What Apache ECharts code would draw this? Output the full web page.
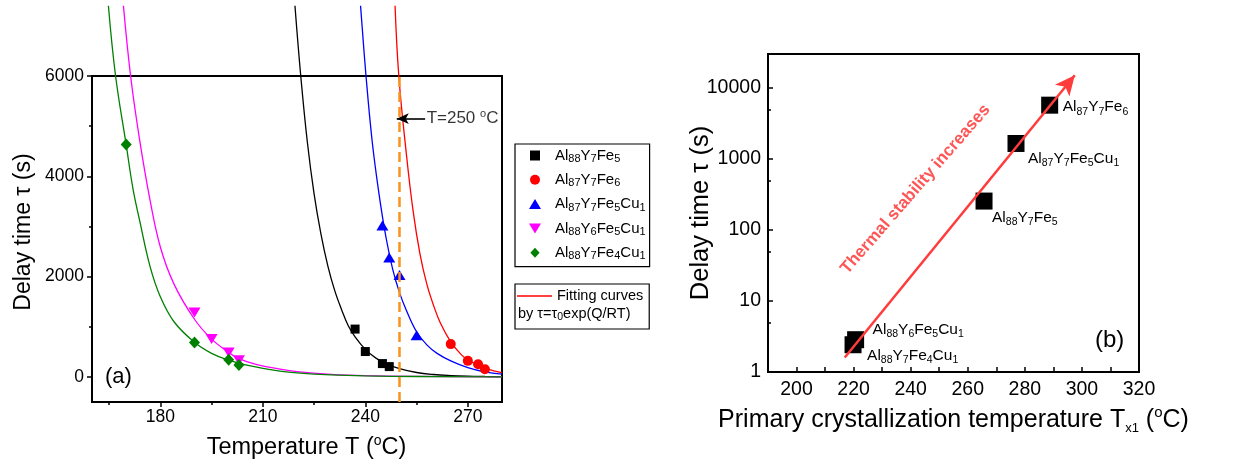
<!DOCTYPE html>
<html><head><meta charset="utf-8">
<script src="https://cdn.jsdelivr.net/npm/echarts@6/dist/echarts.min.js"></script>
<style>html,body{margin:0;padding:0;background:#fff}#c{width:1238px;height:461px}</style>
</head><body><div id="c"></div>
<script>
const FONT = "'Liberation Sans', Arial, Helvetica, sans-serif";

// ---------- panel (a): measured delay times ----------
const alloyNames = ['Al88Y7Fe5', 'Al87Y7Fe6', 'Al87Y7Fe5Cu1', 'Al88Y6Fe5Cu1', 'Al88Y7Fe4Cu1'];
const fe5T = [237, 240, 245, 247];        const fe5Tau = [954, 506, 266, 206];
const fe6T = [265, 270, 273, 275];        const fe6Tau = [654, 320, 254, 154];
const cuT = [245, 247, 250, 255];         const cuTau = [3020, 2380, 2030, 830];
const y6T = [190, 195, 200, 203];         const y6Tau = [1286, 754, 486, 334];
const fe4T = [170, 190, 200, 203];        const fe4Tau = [4634, 686, 340, 240];

// ---------- panel (a): fitting curves ----------
const fitFe5T = [219.4, 221.1, 223, 225, 227, 229, 231, 233, 235, 237, 240, 243, 246, 250, 255, 260, 265, 270, 275, 280];
const fitFe5Tau = [7400, 6000, 4700, 3650, 2850, 2220, 1730, 1350, 1020, 800, 550, 380, 265, 165, 88, 48, 27, 15, 9, 5];
const fitFe6T = [248.7, 249.8, 252, 254, 256, 258, 260, 262, 265, 268, 270, 273, 275, 278, 280];
const fitFe6Tau = [7400, 6000, 4450, 3300, 2450, 1850, 1420, 1070, 700, 450, 340, 235, 175, 115, 85];
const fitCuT = [238.6, 240.2, 242, 244, 246, 248, 250, 252, 255, 258, 261, 265, 270, 275, 280];
const fitCuTau = [7400, 6000, 4700, 3650, 2800, 2150, 1680, 1330, 900, 640, 470, 320, 185, 100, 55];
const fitY6T = [169.2, 171.3, 174, 177, 180, 184, 190, 195, 200, 203, 208, 215, 220, 230, 240, 255, 280];
const fitY6Tau = [7400, 6000, 4700, 3520, 2590, 1850, 1150, 754, 490, 365, 250, 155, 105, 52, 25, 10, 2];
const fitFe4T = [164.8, 166.9, 170, 172, 174, 177, 180, 184, 190, 195, 200, 205, 210, 215, 220, 230, 240, 255, 280];
const fitFe4Tau = [7400, 6000, 4630, 3750, 3100, 2200, 1600, 1100, 690, 470, 335, 240, 170, 115, 80, 40, 20, 8, 2];

// annotation at T = 250 C
const markT = [250];
const arrowTail = [257.5, 5150];
const arrowHead = [249.2, 5150];

// axis ticks panel (a)
const xMajorA = [180, 210, 240, 270];
const xMinorA = [165, 195, 225, 255];
const yMajorA = [0, 2000, 4000, 6000];
const yMinorA = [1000, 3000, 5000];

// ---------- panel (b) ----------
const tx1 = [265.7, 288.7, 276.9, 220.7, 219.8];
const tau250 = [255, 5710, 1650, 2.85, 2.42];
const redArrowStart = [216.9, 1.6];
const redArrowEnd = [297.5, 15090];
const thermalPos = [241.7, 374];
const xLabelsB = [200, 220, 240, 260, 280, 300, 320];
const xTicksB = [200, 210, 220, 230, 240, 250, 260, 270, 280, 290, 300, 310];
const yMajorB = [1, 10, 100, 1000, 10000];
const yMinorB = [5, 50, 500, 5000];

// label offsets (style) for panel (b)
const labelOffsetsB = [[-0.5, 17], [4.5, 2], [3.5, 15], [8.5, -10], [5.5, 11]];

function pts(xs, ys) { return xs.map((x, i) => [x, ys[i]]); }
function sub(name) { return name.replace(/(\d+)/g, '{s|$1}'); }

const SQ = 'path://M0,0h10v10h-10z';
const TRI_UP = 'path://M6,0L12,10L0,10Z';
const TRI_DN = 'path://M0,0L12,0L6,10Z';
const DIAM = 'path://M6,0L12,6.5L6,13L0,6.5Z';
const LINE_ICON = 'path://M0,0h35v1.4h-35z';

const colors = ['#000000', '#ff0000', '#0000ff', '#ff00ff', '#008000'];

function lineSeries(name, xs, ys, color, extra) {
  return Object.assign({
    type: 'line', name: name, xAxisIndex: 0, yAxisIndex: 0,
    data: pts(xs, ys), symbol: 'none', showSymbol: false, smooth: 0.4,
    clip: false, silent: true, z: 2,
    lineStyle: { color: color, width: 1.3 }, itemStyle: { color: color }
  }, extra || {});
}
function scatterA(name, xs, ys, color, symbol, size) {
  return {
    type: 'scatter', name: name, xAxisIndex: 0, yAxisIndex: 0, data: pts(xs, ys),
    symbol: symbol, symbolSize: size, itemStyle: { color: color, opacity: 1 }, silent: true, z: 4
  };
}

const axisLineBlack = { show: true, onZero: false, lineStyle: { color: '#000', width: 2 } };
const axisLineHidden = { show: false, onZero: false };
const tickStyle = { color: '#000', width: 1.5 };

const option = {
  animation: false,
  backgroundColor: '#fff',
  textStyle: { fontFamily: FONT, color: '#000' },
  grid: [
    { left: 92, top: 76, width: 410, height: 326, show: true, borderColor: '#000', borderWidth: 2,
      backgroundColor: 'transparent', containLabel: false, outerBoundsMode: 'none' },
    { left: 768, top: 54, width: 371, height: 318, show: true, borderColor: '#000', borderWidth: 2,
      backgroundColor: 'transparent', containLabel: false, outerBoundsMode: 'none' }
  ],
  xAxis: [
    { gridIndex: 0, type: 'value', min: 160, max: 280, position: 'bottom',
      axisLine: axisLineBlack,
      axisTick: { show: true, inside: false, length: 5, customValues: xMajorA, lineStyle: tickStyle },
      axisLabel: { show: true, customValues: xMajorA, fontSize: 17.5, margin: 6, color: '#000', fontFamily: FONT, formatter: v => String(v) },
      splitLine: { show: false },
      name: 'Temperature T ({o|o}C)', nameLocation: 'middle', nameGap: 32, nameMoveOverlap: false,
      nameTextStyle: { fontSize: 23.5, lineHeight: 28, color: '#000', fontFamily: FONT, padding: [0, 0, 0, 19],
        rich: { o: { fontSize: 14, lineHeight: 14, verticalAlign: 'top', fontFamily: FONT } } } },
    { gridIndex: 0, type: 'value', min: 160, max: 280, position: 'bottom',
      axisLine: axisLineHidden,
      axisTick: { show: true, inside: false, length: 3, customValues: xMinorA, lineStyle: tickStyle },
      axisLabel: { show: false }, splitLine: { show: false } },
    { gridIndex: 1, type: 'value', min: 190, max: 320, position: 'bottom',
      axisLine: axisLineBlack,
      axisTick: { show: true, inside: true, length: 5, customValues: xTicksB, lineStyle: tickStyle },
      axisLabel: { show: true, customValues: xLabelsB, fontSize: 19.5, margin: 8, color: '#000', fontFamily: FONT, formatter: v => String(v) },
      splitLine: { show: false },
      name: 'Primary crystallization temperature T{x|x1} ({o|o}C)', nameLocation: 'middle', nameGap: 33, nameMoveOverlap: false,
      nameTextStyle: { fontSize: 25, lineHeight: 30, color: '#000', fontFamily: FONT,
        rich: { x: { fontSize: 13, lineHeight: 5, verticalAlign: 'bottom', fontFamily: FONT },
                o: { fontSize: 15, lineHeight: 15, verticalAlign: 'top', fontFamily: FONT } } } }
  ],
  yAxis: [
    { gridIndex: 0, type: 'value', min: -500, max: 6000, position: 'left',
      axisLine: axisLineBlack,
      axisTick: { show: true, inside: false, length: 5, customValues: yMajorA, lineStyle: tickStyle },
      axisLabel: { show: true, customValues: yMajorA, fontSize: 17.5, margin: 8, color: '#000', fontFamily: FONT, formatter: v => String(v) },
      splitLine: { show: false },
      name: 'Delay time \u03c4 (s)', nameLocation: 'middle', nameGap: 54, nameRotate: 90, nameMoveOverlap: false,
      nameTextStyle: { fontSize: 23, lineHeight: 28, color: '#000', fontFamily: FONT, padding: [0, 0, 0, 14] } },
    { gridIndex: 0, type: 'value', min: -500, max: 6000, position: 'left',
      axisLine: axisLineHidden,
      axisTick: { show: true, inside: false, length: 3, customValues: yMinorA, lineStyle: tickStyle },
      axisLabel: { show: false }, splitLine: { show: false } },
    { gridIndex: 1, type: 'log', logBase: 10, min: 1, max: 30000, position: 'left',
      axisLine: axisLineBlack,
      axisTick: { show: true, inside: true, length: 5, customValues: yMajorB, lineStyle: tickStyle },
      axisLabel: { show: true, customValues: yMajorB, fontSize: 19.5, margin: 7, color: '#000', fontFamily: FONT, formatter: v => String(Math.round(v)) },
      splitLine: { show: false },
      name: 'Delay time \u03c4 (s)', nameLocation: 'middle', nameGap: 52, nameRotate: 90, nameMoveOverlap: false,
      nameTextStyle: { fontSize: 25.5, lineHeight: 30, color: '#000', fontFamily: FONT } },
    { gridIndex: 1, type: 'log', logBase: 10, min: 1, max: 30000, position: 'left',
      axisLine: axisLineHidden,
      axisTick: { show: true, inside: true, length: 3, customValues: yMinorB, lineStyle: tickStyle },
      axisLabel: { show: false }, splitLine: { show: false } }
  ],
  legend: [
    { data: [
        { name: alloyNames[0], icon: SQ },
        { name: alloyNames[1], icon: 'circle' },
        { name: alloyNames[2], icon: TRI_UP },
        { name: alloyNames[3], icon: TRI_DN },
        { name: alloyNames[4], icon: DIAM }
      ],
      orient: 'vertical', left: 515, top: 144, itemWidth: 30, itemHeight: 10, itemGap: 6.3,
      padding: [2.5, 4, 5, 14], borderColor: '#000', borderWidth: 1.2, backgroundColor: '#fff',
      selectedMode: false, formatter: n => sub(n),
      textStyle: { fontSize: 15, lineHeight: 18, color: '#000', fontFamily: FONT,
        rich: { s: { fontSize: 11, lineHeight: 5, verticalAlign: 'bottom', fontFamily: FONT } } } },
    { data: [{ name: 'Fitting curves', icon: LINE_ICON, itemStyle: { color: '#ff0000', opacity: 1 } }],
      orient: 'vertical', left: 515, top: 284, itemWidth: 35, itemHeight: 10, itemGap: 0,
      padding: [3, 6, 24, 2], borderColor: '#000', borderWidth: 1.2, backgroundColor: '#fff',
      selectedMode: false,
      textStyle: { fontSize: 14.5, lineHeight: 18, color: '#000', fontFamily: FONT } }
  ],
  graphic: [
    { type: 'text', x: 105, y: 377, silent: true,
      style: { text: '(a)', fontSize: 22, fontFamily: FONT, fill: '#000', verticalAlign: 'middle', textVerticalAlign: 'middle' } },
    { type: 'text', x: 1095, y: 340, silent: true,
      style: { text: '(b)', fontSize: 24, fontFamily: FONT, fill: '#000', verticalAlign: 'middle', textVerticalAlign: 'middle' } },
    { type: 'text', x: 518, y: 313.5, silent: true, z: 100,
      style: { text: 'by \u03c4=\u03c4{s|0}exp(Q/RT)', fontSize: 14.5, lineHeight: 18, fontFamily: FONT, fill: '#000',
        verticalAlign: 'middle', textVerticalAlign: 'middle',
        rich: { s: { fontSize: 10.5, lineHeight: 5, verticalAlign: 'bottom', fontFamily: FONT, fill: '#000' } } } }
  ],
  series: [
    lineSeries('fitFe5', fitFe5T, fitFe5Tau, colors[0], {
      markLine: { silent: true, symbol: ['none', 'none'], label: { show: false },
        lineStyle: { color: '#f7931e', width: 2.5, type: [10, 5] },
        data: [{ xAxis: markT[0] }] } }),
    lineSeries('Fitting curves', fitFe6T, fitFe6Tau, colors[1]),
    lineSeries('fitCu', fitCuT, fitCuTau, colors[2], {
      markLine: { silent: true, symbol: ['none', 'arrow'], symbolSize: [8, 12], label: { show: false },
        lineStyle: { color: '#000', width: 1.6, type: 'solid' },
        data: [[{ coord: arrowTail }, { coord: arrowHead }]] } }),
    lineSeries('fitY6', fitY6T, fitY6Tau, colors[3]),
    lineSeries('fitFe4', fitFe4T, fitFe4Tau, colors[4]),
    scatterA(alloyNames[0], fe5T, fe5Tau, colors[0], 'rect', 9),
    scatterA(alloyNames[1], fe6T, fe6Tau, colors[1], 'circle', 10),
    scatterA(alloyNames[2], cuT, cuTau, colors[2], TRI_UP, [12, 10]),
    scatterA(alloyNames[3], y6T, y6Tau, colors[3], TRI_DN, [12, 10]),
    scatterA(alloyNames[4], fe4T, fe4Tau, colors[4], DIAM, [11, 12]),
    { type: 'scatter', name: 'tLabel', xAxisIndex: 0, yAxisIndex: 0, silent: true, z: 5,
      data: [arrowTail], symbolSize: 1, itemStyle: { color: 'rgba(0,0,0,0)' },
      label: { show: true, position: 'right', distance: 1, color: '#000', fontFamily: FONT,
        fontSize: 17, lineHeight: 20, formatter: 'T=250 {o|o}C',
        rich: { o: { fontSize: 11, lineHeight: 11, verticalAlign: 'top', fontFamily: FONT } } } },
    // panel (b)
    { type: 'scatter', name: 'tau250', xAxisIndex: 2, yAxisIndex: 2, silent: true, z: 4,
      symbol: 'rect', symbolSize: 17, itemStyle: { color: '#000', opacity: 1 },
      data: tx1.map((t, i) => ({ value: [t, tau250[i]], label: { offset: labelOffsetsB[i] } })),
      label: { show: true, position: 'right', distance: 0, color: '#000', fontFamily: FONT,
        fontSize: 15.5, lineHeight: 20, opacity: 1,
        formatter: p => sub(alloyNames[p.dataIndex]),
        rich: { s: { fontSize: 10.5, lineHeight: 5, verticalAlign: 'bottom', fontFamily: FONT } } },
      markLine: { silent: true, symbol: ['none', 'arrow'], symbolSize: [14, 20], label: { show: false },
        lineStyle: { color: '#ff3b3b', width: 2.5, type: 'solid', opacity: 1 },
        itemStyle: { color: '#ff3b3b', opacity: 1 },
        data: [[{ coord: redArrowStart }, { coord: redArrowEnd }]] } },
    { type: 'scatter', name: 'thermal', xAxisIndex: 2, yAxisIndex: 2, silent: true, z: 5,
      data: [thermalPos], symbolSize: 1, itemStyle: { color: 'rgba(0,0,0,0)' },
      label: { show: true, position: 'inside', rotate: 49, color: '#ff2a2a', fontFamily: FONT,
        fontSize: 17, fontWeight: 'bold', formatter: 'Thermal stability increases' } }
  ]
};

const chart = echarts.init(document.getElementById('c'), null, { renderer: 'canvas' });
chart.setOption(option);
</script></body></html>
